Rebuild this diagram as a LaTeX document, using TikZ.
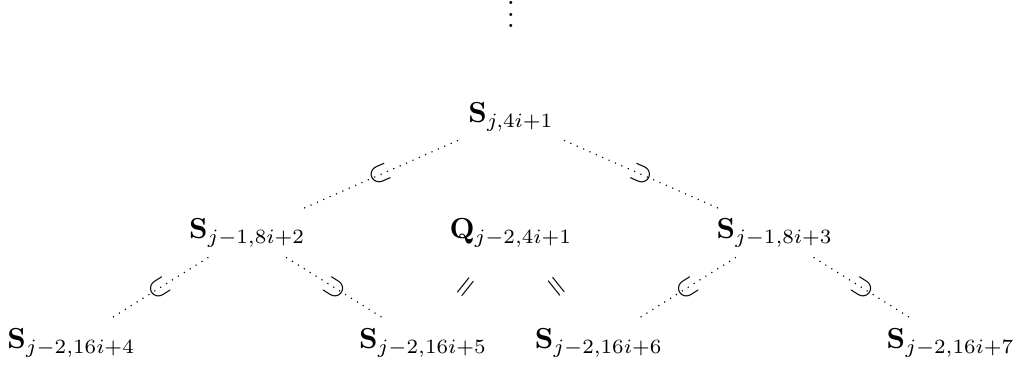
\documentclass[tikz,border=0pt]{standalone}
\usepackage{amsmath,amssymb}
\usepackage{tikz}
\usetikzlibrary{positioning}

\begin{document}
\begin{tikzpicture}[
  node distance=40pt and 91pt, on grid,
  incl/.style={dotted},
  rel/.style={midway, sloped, inner sep=0pt}
]
  \useasboundingbox (-176.3pt,40.4pt) rectangle (175.6pt,-86.6pt);
  % Nodes
  \node (top) {$\mathbf{S}_{j,4i+1}$};
  \node[above=38.4pt of top] (dots) {$\vdots$};
  \node[below left=of top]  (sl) {$\mathbf{S}_{j-1,8i+2}$};
  \node[below=of top]       (q)  {$\mathbf{Q}_{j-2,4i+1}$};
  \node[below right=of top] (sr) {$\mathbf{S}_{j-1,8i+3}$};
  \node[below left=38pt and 60.7pt of sl]  (sll) {$\mathbf{S}_{j-2,16i+4}$};
  \node[below right=38pt and 60.7pt of sl] (slr) {$\mathbf{S}_{j-2,16i+5}$};
  \node[below left=38pt and 60.7pt of sr]  (srl) {$\mathbf{S}_{j-2,16i+6}$};
  \node[below right=38pt and 60.7pt of sr] (srr) {$\mathbf{S}_{j-2,16i+7}$};

  % Inclusions
  \draw[incl] (top) -- node[rel] {$\subset$} (sl);
  \draw[incl] (top) -- node[rel] {$\supset$} (sr);
  \draw[incl] (sl)  -- node[rel] {$\subset$} (sll);
  \draw[incl] (sl)  -- node[rel] {$\supset$} (slr);
  \draw[incl] (sr)  -- node[rel] {$\subset$} (srl);
  \draw[incl] (sr)  -- node[rel] {$\supset$} (srr);
  % Equalities
  \path (q) -- node[rel] {$=$} (slr);
  \path (q) -- node[rel] {$=$} (srl);
\end{tikzpicture}
\end{document}
